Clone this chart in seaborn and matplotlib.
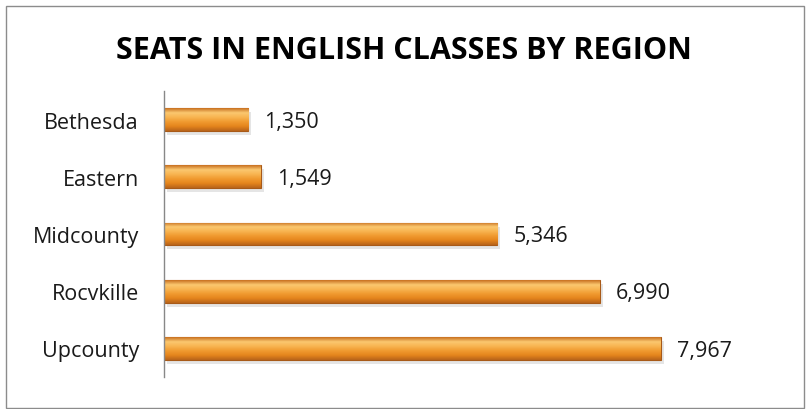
import matplotlib
matplotlib.use("Agg")
import matplotlib.pyplot as plt
import seaborn as sns
import numpy as np
import pandas as pd
from matplotlib.patches import Rectangle
from matplotlib.colors import LinearSegmentedColormap

regions = ["Bethesda", "Eastern", "Midcounty", "Rocvkille", "Upcounty"]
seats = [1350, 1549, 5346, 6990, 7967]
title = "SEATS IN ENGLISH CLASSES BY REGION"

df = pd.DataFrame({"region": regions, "seats": seats})

sns.set_style("white")
plt.rcParams["font.family"] = ["Open Sans", "DejaVu Sans"]

fig = plt.figure(figsize=(8.07, 4.10), dpi=100)
ax = fig.add_axes([164/807, 1-378/410, (725-164)/807, (378-92)/410])

sns.barplot(data=df, x="seats", y="region", orient="h", color="#F0962A",
            width=0.40, ax=ax, saturation=1, edgecolor="#A85A18", linewidth=0.8)

# gradient overlay for bevelled look
cmap = LinearSegmentedColormap.from_list(
    "bev", ["#C87020", "#FBC870", "#F8B450", "#F09A30", "#E5851C", "#B8641A"])
grad = np.linspace(0, 1, 64).reshape(-1, 1)
for p in list(ax.patches):
    x0, y0 = p.get_x(), p.get_y()
    w, h = p.get_width(), p.get_height()
    sh = Rectangle((x0 + 50, y0 + 0.07), w, h, facecolor="#000000", alpha=0.10,
                   edgecolor="none", zorder=p.get_zorder() - 0.5)
    ax.add_patch(sh)
    im = ax.imshow(grad, cmap=cmap, aspect="auto", extent=(x0, x0 + w, y0 + h, y0),
                   zorder=p.get_zorder() + 0.1, interpolation="bilinear")
    im.set_clip_path(p)

ax.set_xlim(0, 9000)
ax.set_ylim(4.5, -0.5)

for i, v in enumerate(seats):
    ax.text(v + 260, i + 0.03, f"{v:,}", va="center", ha="left", fontsize=15.5, color="#1a1a1a")

ax.set_xlabel("")
ax.set_ylabel("")
ax.set_xticks([])
ax.tick_params(axis="y", length=0, pad=18, labelsize=15.5, labelcolor="#1a1a1a")
for s in ["top", "right", "bottom"]:
    ax.spines[s].set_visible(False)
ax.spines["left"].set_color("#888888")
ax.spines["left"].set_linewidth(1.0)

fig.text(404/807, 1-51/410, title, ha="center", va="center", fontsize=22,
         fontweight="bold", color="#000000")

fig.patches.append(Rectangle((6/807, 1/410), 798/807, 402/410, transform=fig.transFigure,
                             fill=False, edgecolor="#8c8c8c", linewidth=1.0))

fig.savefig("out.png", dpi=100)
